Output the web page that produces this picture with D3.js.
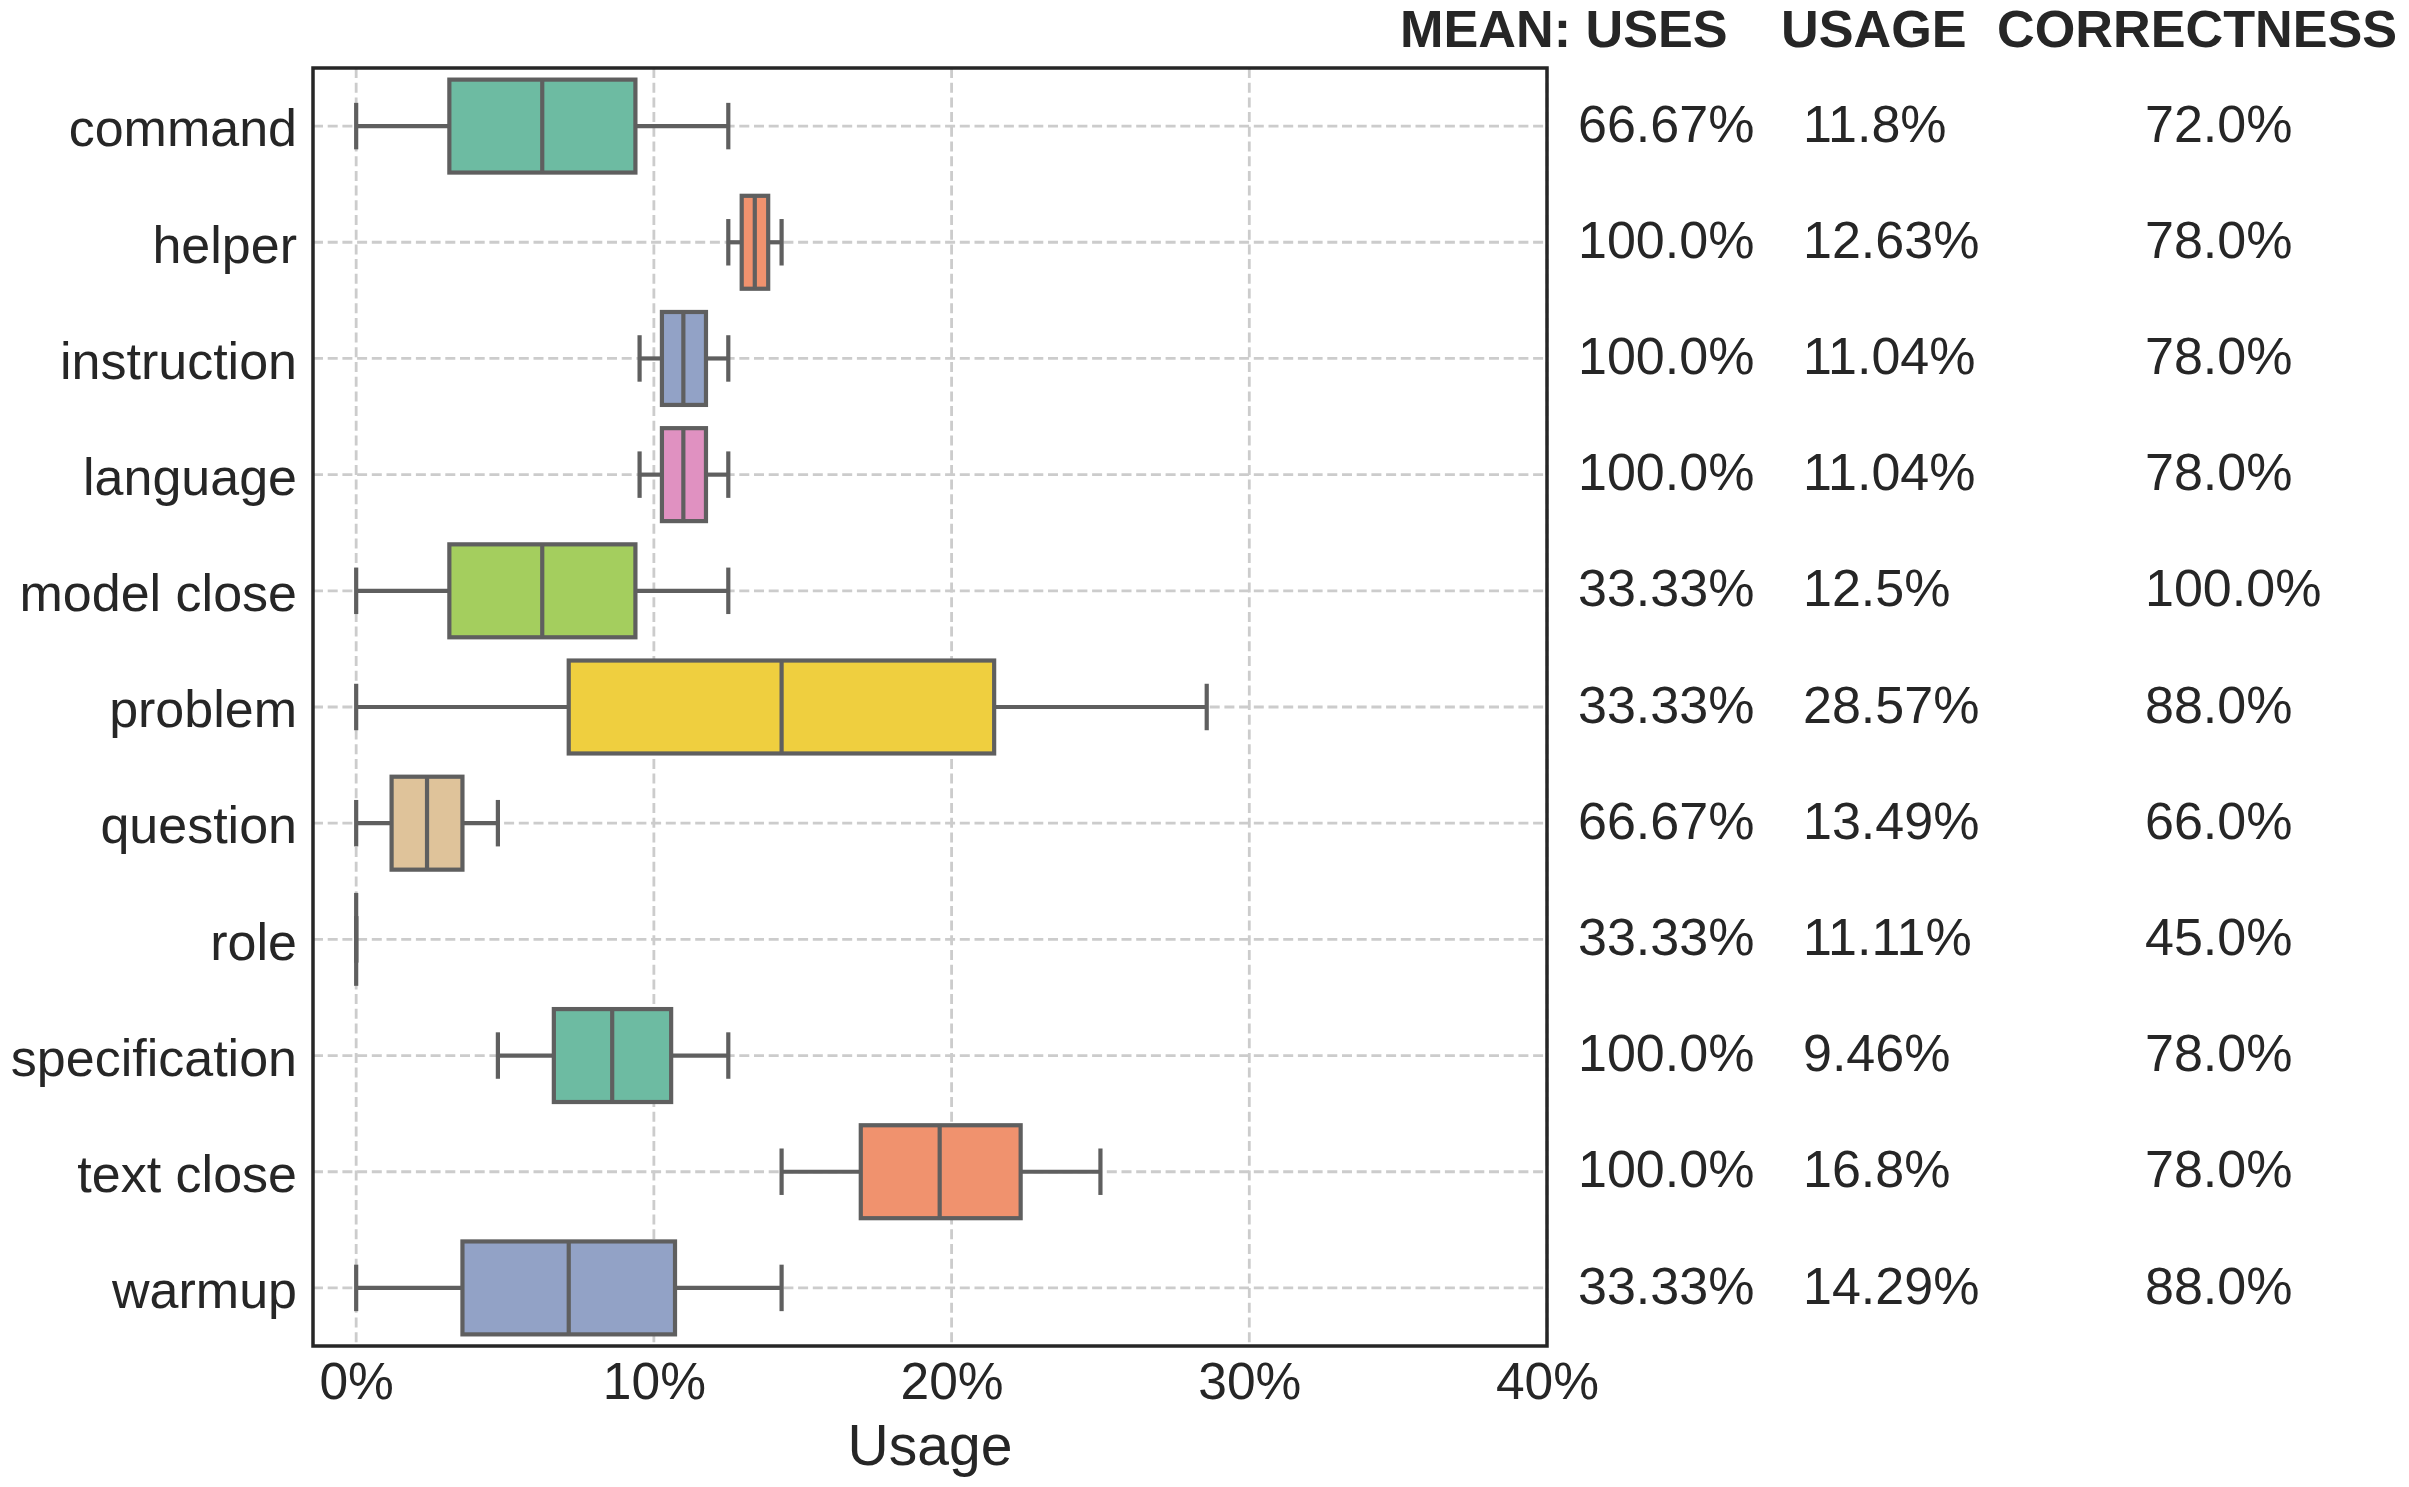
<!DOCTYPE html>
<html>
<head>
<meta charset="utf-8">
<script src="https://cdn.jsdelivr.net/npm/d3@7"></script>
<style>
  body { margin: 0; background: white; }
  text { font-family: "Liberation Sans", Arial, sans-serif; fill: #262626; }
</style>
</head>
<body>
<div id="vis"></div>
<script>
var width = 2409;
var height = 1487;

// data (percent)
var categories = ["command", "helper", "instruction", "language", "model close", "problem",
                  "question", "role", "specification", "text close", "warmup"];
var whiskerLow = [0, 12.5, 9.52, 9.52, 0, 0, 0, 0, 4.76, 14.29, 0];
var q1 = [3.13, 12.95, 10.27, 10.27, 3.13, 7.14, 1.19, 0, 6.64, 16.95, 3.57];
var median = [6.25, 13.39, 10.99, 10.99, 6.25, 14.29, 2.38, 0, 8.6, 19.6, 7.14];
var q3 = [9.38, 13.84, 11.75, 11.75, 9.38, 21.43, 3.57, 0, 10.58, 22.32, 10.71];
var whiskerHigh = [12.5, 14.29, 12.5, 12.5, 12.5, 28.57, 4.76, 0, 12.5, 25.0, 14.29];

var meanUses = ["66.67%", "100.0%", "100.0%", "100.0%", "33.33%", "33.33%", "66.67%", "33.33%", "100.0%", "100.0%", "33.33%"];
var meanUsage = ["11.8%", "12.63%", "11.04%", "11.04%", "12.5%", "28.57%", "13.49%", "11.11%", "9.46%", "16.8%", "14.29%"];
var meanCorrectness = ["72.0%", "78.0%", "78.0%", "78.0%", "100.0%", "88.0%", "66.0%", "45.0%", "78.0%", "78.0%", "88.0%"];

var headers = ["MEAN: USES", "USAGE", "CORRECTNESS"];
var xTicks = [0, 10, 20, 30, 40];

var set2 = ["#66c2a5", "#fc8d62", "#8da0cb", "#e78ac3", "#a6d854", "#ffd92f", "#e5c494", "#b3b3b3"];

var rows = categories.map((c, i) => ({
  name: c, lo: whiskerLow[i], q1: q1[i], med: median[i], q3: q3[i], hi: whiskerHigh[i], i: i
}));

// seaborn-like desaturation
function desat(c) {
  var h = d3.hsl(c);
  h.s *= 0.85;
  return h.formatHex();
}

var plotLeft = 313, plotRight = 1547, plotTop = 68, plotBottom = 1346;

var svg = d3.select("#vis")
  .append("svg")
  .attr("width", width)
  .attr("height", height)
  .style("background-color", "white");

var xScale = d3.scaleLinear()
  .domain([-1.45, 40])
  .range([plotLeft, plotRight]);

var yScale = d3.scaleBand()
  .domain(categories)
  .range([plotTop, plotBottom])
  .padding(0);

var boxH = yScale.bandwidth() * 0.8;
var lineColor = "#5f5f5f";
var lw = 4.2;

// grid
var grid = svg.append("g").attr("class", "grid")
  .attr("stroke", "#cccccc")
  .attr("stroke-width", 2.8)
  .attr("stroke-dasharray", "10,4.7");

grid.selectAll(".vgrid")
  .data(xTicks)
  .join("line")
  .attr("class", "vgrid")
  .attr("x1", d => xScale(d))
  .attr("x2", d => xScale(d))
  .attr("y1", plotTop)
  .attr("y2", plotBottom);

grid.selectAll(".hgrid")
  .data(categories)
  .join("line")
  .attr("class", "hgrid")
  .attr("x1", plotLeft)
  .attr("x2", plotRight)
  .attr("y1", d => yScale(d) + yScale.bandwidth() / 2)
  .attr("y2", d => yScale(d) + yScale.bandwidth() / 2);

// boxes
var boxes = svg.selectAll(".box")
  .data(rows)
  .join("g")
  .attr("class", "box")
  .attr("transform", d => `translate(0, ${yScale(d.name) + yScale.bandwidth() / 2})`);

boxes.append("line")
  .attr("x1", d => xScale(d.lo))
  .attr("x2", d => xScale(d.q1))
  .attr("stroke", lineColor).attr("stroke-width", lw);

boxes.append("line")
  .attr("x1", d => xScale(d.q3))
  .attr("x2", d => xScale(d.hi))
  .attr("stroke", lineColor).attr("stroke-width", lw);

boxes.append("line")
  .attr("x1", d => xScale(d.lo))
  .attr("x2", d => xScale(d.lo))
  .attr("y1", -boxH / 4).attr("y2", boxH / 4)
  .attr("stroke", lineColor).attr("stroke-width", lw);

boxes.append("line")
  .attr("x1", d => xScale(d.hi))
  .attr("x2", d => xScale(d.hi))
  .attr("y1", -boxH / 4).attr("y2", boxH / 4)
  .attr("stroke", lineColor).attr("stroke-width", lw);

boxes.append("rect")
  .attr("x", d => xScale(d.q1))
  .attr("width", d => xScale(d.q3) - xScale(d.q1))
  .attr("y", -boxH / 2)
  .attr("height", boxH)
  .attr("fill", d => desat(set2[d.i % set2.length]))
  .attr("stroke", lineColor).attr("stroke-width", lw);

boxes.append("line")
  .attr("x1", d => xScale(d.med))
  .attr("x2", d => xScale(d.med))
  .attr("y1", -boxH / 2).attr("y2", boxH / 2)
  .attr("stroke", lineColor).attr("stroke-width", lw);

// axes
var xAxis = d3.axisBottom(xScale)
  .tickValues(xTicks)
  .tickSize(0)
  .tickPadding(16)
  .tickFormat(d => d + "%");

var gx = svg.append("g")
  .attr("transform", `translate(0, ${plotBottom})`)
  .call(xAxis);
gx.select(".domain").remove();
gx.selectAll("text")
  .style("font-size", "51.5px")
  .style("font-family", "'Liberation Sans', Arial, sans-serif")
  .attr("fill", "#262626");

var yAxis = d3.axisLeft(yScale)
  .tickSize(0)
  .tickPadding(16);

var gy = svg.append("g")
  .attr("transform", `translate(${plotLeft}, 0)`)
  .call(yAxis);
gy.select(".domain").remove();
gy.selectAll("text")
  .attr("dy", "0.39em")
  .style("font-size", "52px")
  .style("font-family", "'Liberation Sans', Arial, sans-serif")
  .attr("fill", "#262626");

svg.append("text")
  .attr("x", (plotLeft + plotRight) / 2)
  .attr("y", 1465)
  .attr("text-anchor", "middle")
  .style("font-size", "57px")
  .text("Usage");

// frame
svg.append("rect")
  .attr("x", plotLeft)
  .attr("y", plotTop)
  .attr("width", plotRight - plotLeft)
  .attr("height", plotBottom - plotTop)
  .attr("fill", "none")
  .attr("stroke", "#262626")
  .attr("stroke-width", 3.5);

// table on the right
var colX = [1578, 1803, 2145];
var headerX = [1400, 1781, 1997];

svg.selectAll(".header")
  .data(headers)
  .join("text")
  .attr("class", "header")
  .attr("x", (d, i) => headerX[i])
  .attr("y", 47)
  .style("font-size", "52.2px")
  .style("font-weight", "bold")
  .text(d => d);

var columns = [meanUses, meanUsage, meanCorrectness];
columns.forEach((col, ci) => {
  svg.selectAll(".col" + ci)
    .data(col)
    .join("text")
    .attr("class", "col" + ci)
    .attr("x", colX[ci])
    .attr("y", (d, i) => yScale(categories[i]) + yScale.bandwidth() / 2)
    .attr("dy", "0.3em")
    .style("font-size", "52px")
    .text(d => d);
});
</script>
</body>
</html>
